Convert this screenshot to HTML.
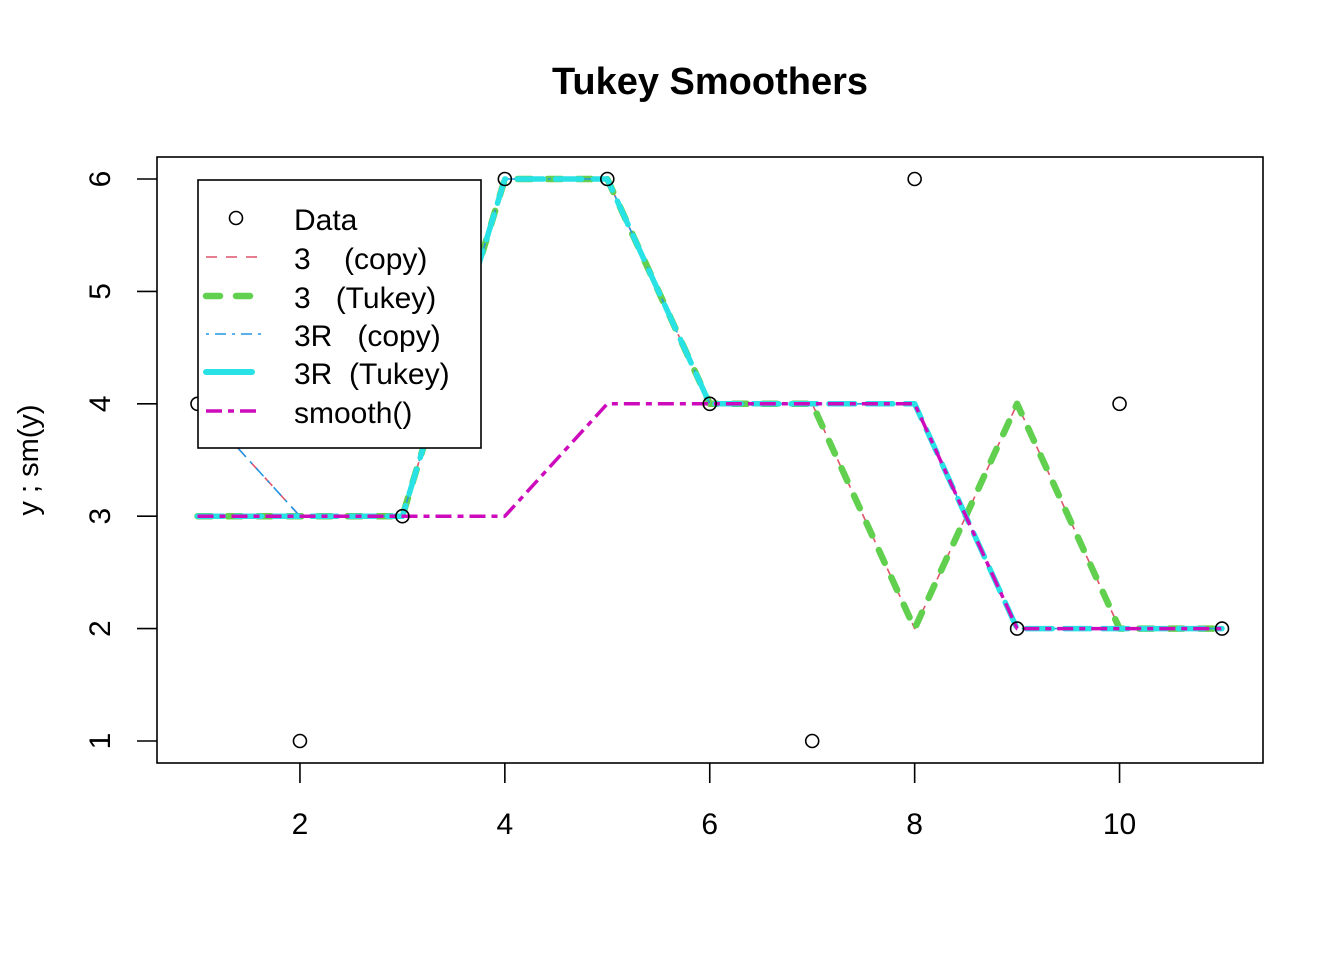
<!DOCTYPE html>
<html><head><meta charset="utf-8"><style>
body{margin:0;background:#fff}
svg text{font-family:"Liberation Sans",sans-serif;fill:#000}
</style></head><body>
<svg id="c" width="1344" height="960" xmlns="http://www.w3.org/2000/svg">
<text x="710" y="94" text-anchor="middle" font-size="38" font-weight="bold">Tukey Smoothers</text>
<rect x="157" y="157" width="1106" height="606" fill="none" stroke="#000" stroke-width="1.6"/>
<text transform="translate(38,460) rotate(-90)" text-anchor="middle" font-size="29">y ;  sm(y)</text>
<g id="axes"></g><g id="series"></g><g id="pts"></g>
<g id="legend">
<rect x="198" y="180" width="283" height="268" fill="#fff" stroke="#000" stroke-width="1.6"/>
<circle cx="236" cy="218" r="6.5" fill="none" stroke="#000" stroke-width="1.6"/>
<line x1="206" x2="262" y1="257" y2="257" stroke="#DF536B" stroke-width="1.6" stroke-dasharray="11 9"/>
<line x1="206" x2="262" y1="296" y2="296" stroke="#61D04F" stroke-width="6.5" stroke-dasharray="14 16" stroke-linecap="round"/>
<line x1="206" x2="262" y1="334" y2="334" stroke="#2297E6" stroke-width="1.6" stroke-dasharray="3 6 11 6"/>
<line x1="206" x2="252" y1="372" y2="372" stroke="#28E2E5" stroke-width="6" stroke-linecap="round"/>
<line x1="206" x2="262" y1="411" y2="411" stroke="#CD0BBC" stroke-width="3.5" stroke-dasharray="16 6 6 6"/>
<text x="294" y="230" font-size="30">Data</text>
<text x="294" y="269" font-size="30" xml:space="preserve">3    (copy)</text>
<text x="294" y="308" font-size="30" xml:space="preserve">3   (Tukey)</text>
<text x="294" y="346" font-size="30" xml:space="preserve">3R   (copy)</text>
<text x="294" y="384" font-size="30" xml:space="preserve">3R  (Tukey)</text>
<text x="294" y="423" font-size="30">smooth()</text>
</g>
</svg>
<script>
const xs=[1,2,3,4,5,6,7,8,9,10,11];
const dataY=[4,1,3,6,6,4,1,6,2,4,2];
const s3copy=[4,3,3,6,6,4,4,2,4,2,2];
const s3tukey=[3,3,3,6,6,4,4,2,4,2,2];
const s3Rcopy=[4,3,3,6,6,4,4,4,2,2,2];
const s3Rtukey=[3,3,3,6,6,4,4,4,2,2,2];
const sSmooth=[3,3,3,3,4,4,4,4,2,2,2];
const xTicks=[2,4,6,8,10];
const yTicks=[1,2,3,4,5,6];
const NS="http://www.w3.org/2000/svg";
const X=v=>197.5+(v-1)*102.45;
const Y=v=>741-(v-1)*112.4;
function mk(t,a,p){const e=document.createElementNS(NS,t);for(const k in a)e.setAttribute(k,a[k]);p.appendChild(e);return e;}
const ax=document.getElementById('axes');
xTicks.forEach(t=>{const l=mk('line',{x1:X(t),x2:X(t),y1:763,y2:783,stroke:'#000','stroke-width':1.6},ax);


const tx=mk('text',{x:X(t),y:834,'text-anchor':'middle','font-size':30},ax);tx.textContent=t;

});
yTicks.forEach(t=>{const l=mk('line',{x1:137,x2:157,y1:Y(t),y2:Y(t),stroke:'#000','stroke-width':1.6},ax);


const tx=mk('text',{transform:`translate(110,${Y(t)}) rotate(-90)`,'text-anchor':'middle','font-size':30},ax);tx.textContent=t;

});
const sg=document.getElementById('series');
function line(vals,col,w,dash,name,cap){const p=mk('polyline',{points:xs.map((x,i)=>X(x)+','+Y(vals[i])).join(' '),fill:'none',stroke:col,'stroke-width':w,'stroke-dasharray':dash,'stroke-linecap':cap||'butt','stroke-linejoin':'round'},sg);

}
line(s3copy,'#DF536B',1.6,'11 9','line-3-copy');
line(s3tukey,'#61D04F',6.5,'14 16','line-3-tukey','round');
line(s3Rcopy,'#2297E6',1.6,'3 6 11 6','line-3r-copy');
line(s3Rtukey,'#28E2E5',5.5,'26 12','line-3r-tukey','round');
line(sSmooth,'#CD0BBC',3.5,'16 6 6 6','line-smooth');
const pg=document.getElementById('pts');
xs.forEach((x,i)=>{const c=mk('circle',{cx:X(x),cy:Y(dataY[i]),r:6.5,fill:'none',stroke:'#000','stroke-width':1.6},pg);

});
document.getElementById('c').appendChild(document.getElementById('legend'));
</script>
</body></html>
